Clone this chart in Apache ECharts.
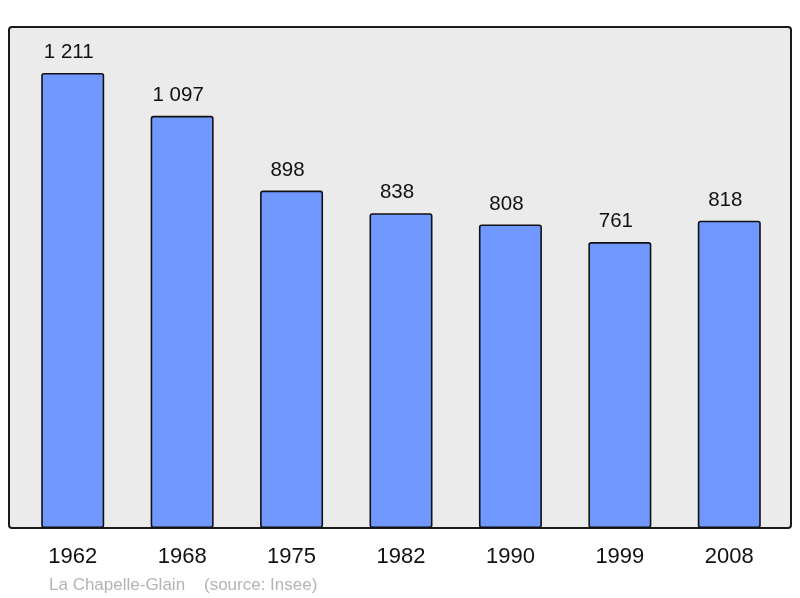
<!DOCTYPE html>
<html>
<head>
<meta charset="utf-8">
<script src="https://cdn.jsdelivr.net/npm/echarts@6/dist/echarts.min.js"></script>
<style>
html,body{margin:0;padding:0;background:#fff;}
#chart{width:800px;height:598px;}
</style>
</head>
<body>
<div id="chart"></div>
<script>
const years = ['1962','1968','1975','1982','1990','1999','2008'];
const population = [1211, 1097, 898, 838, 808, 761, 818];
const footerText = 'La Chapelle-Glain    (source: Insee)';

function fmt(v){ return String(v).replace(/\B(?=(\d{3})+(?!\d))/g, ' '); }

const chart = echarts.init(document.getElementById('chart'));
chart.setOption({
  animation: false,
  backgroundColor: '#ffffff',
  textStyle: { fontFamily: 'Liberation Sans, Arial, sans-serif' },
  graphic: [
    { type: 'rect', z: -10, shape: { x: 9, y: 27, width: 782, height: 501, r: 3 },
      style: { fill: '#ebebeb', stroke: '#1a1a1a', lineWidth: 2 } },
    { type: 'text', left: 49, top: 577,
      style: { text: footerText, fill: '#b3b3b3', font: '17px "Liberation Sans", Arial, sans-serif' } }
  ],
  grid: { left: 18, right: 16, top: 27, bottom: 70 },
  xAxis: {
    type: 'category', data: years,
    axisLine: { show: false }, axisTick: { show: false },
    axisLabel: { color: '#111', fontSize: 22, margin: 18, fontFamily: 'Liberation Sans, Arial, sans-serif' }
  },
  yAxis: { type: 'value', min: 0, max: 1333.5, show: false, splitLine: { show: false } },
  series: [{
    type: 'bar', data: population, barWidth: 63,
    itemStyle: { color: '#7198ff', borderColor: '#111', borderWidth: 1.6, borderRadius: 2 },
    label: { show: true, position: 'top', distance: 10, offset: [-4, 0], color: '#111', fontSize: 20.5,
      fontFamily: 'Liberation Sans, Arial, sans-serif',
      formatter: p => fmt(p.value) }
  }]
});
</script>
</body>
</html>
